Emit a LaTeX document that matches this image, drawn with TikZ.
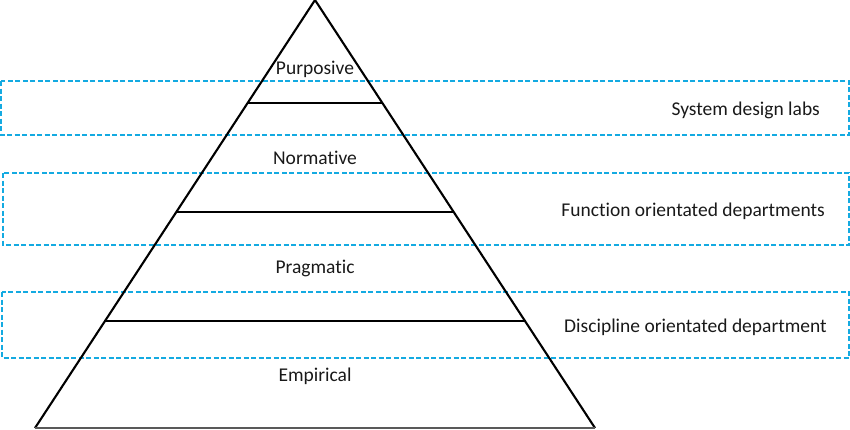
\documentclass[tikz,border=0pt]{standalone}
\usepackage{fontspec}
\setmainfont{Carlito}[Ligatures={NoCommon}]
\definecolor{boxblue}{RGB}{20,170,225}
\definecolor{txt}{RGB}{25,25,25}
\begin{document}
\begin{tikzpicture}[x=1pt,y=-1pt,
  band/.style={draw=boxblue,line width=1.7pt,dash pattern=on 5pt off 2.5pt},
  level/.style={draw=black,line width=2.1pt},
  lbl/.style={anchor=base,font=\fontsize{19.5}{22}\selectfont,text=txt,inner sep=0pt},
  rlbl/.style={anchor=base east,font=\fontsize{19.5}{22}\selectfont,text=txt,inner sep=0pt}]
\useasboundingbox (0,0) rectangle (850,429);
% bands
\draw[band] (1,81) rectangle (849,135);
\draw[band] (3,173) rectangle (849,245);
\draw[band] (2,292) rectangle (849,358);
% pyramid
\coordinate (apex) at (315,0);
\coordinate (bl) at (35,428);
\coordinate (br) at (595,428);
\draw[level,line join=miter] (bl) -- (apex) -- (br);
\draw[draw=gray!70!black,line width=1.2pt] (bl) -- (br);
\draw[level] (247.6,103) -- (382.4,103);
\draw[level] (176.3,212) -- (453.7,212);
\draw[level] (105,321) -- (525,321);
% labels
\node[lbl] (purp) at (315,74) {Purposive};
\node[lbl] (norm) at (315,164) {Normative};
\node[lbl] (prag) at (315,273) {Pragmatic};
\node[lbl] (emp) at (315,381) {Empirical};
\node[rlbl] (sys) at (820,115) {System design labs};
\node[rlbl] (fun) at (825,216) {Function orientated departments};
\node[rlbl] (dis) at (827,332) {Discipline orientated department};
\end{tikzpicture}
\end{document}
